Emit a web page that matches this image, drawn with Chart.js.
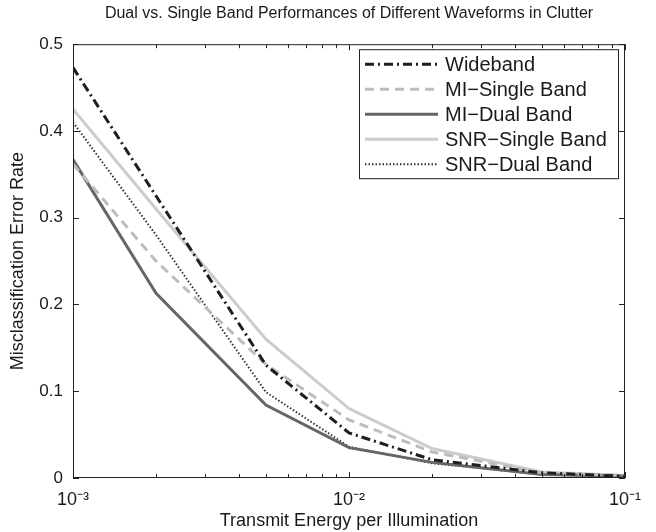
<!DOCTYPE html>
<html>
<head>
<meta charset="UTF-8">
<style>
  html, body { margin: 0; padding: 0; background: #fff; }
  #wrap { width: 656px; height: 532px; }
</style>
</head>
<body>
<div id="wrap">
    <canvas id="myChart" width="656" height="532"></canvas>
</div>

<script src="https://cdn.jsdelivr.net/npm/chart.js"></script>

<script>
    // transmit energy values (log axis)
    const energy = [0.001, 0.002, 0.005, 0.01, 0.02, 0.05, 0.1];

    // error rates
    const wideband     = [0.473, 0.325, 0.130, 0.052, 0.021, 0.006, 0.002];
    const miSingle     = [0.362, 0.250, 0.131, 0.067, 0.030, 0.006, 0.003];
    const miDual       = [0.367, 0.213, 0.084, 0.035, 0.018, 0.004, 0.002];
    const snrSingle    = [0.425, 0.310, 0.160, 0.080, 0.034, 0.007, 0.003];
    const snrDual      = [0.410, 0.280, 0.099, 0.036, 0.017, 0.004, 0.002];

    const xTicks = [0.001, 0.01, 0.1];
    const xTickLabels = ['10\u207B\u00B3', '10\u207B\u00B2', '10\u207B\u00B9'];
    const yTicks = [0, 0.1, 0.2, 0.3, 0.4, 0.5];

    const FONT = '"Liberation Sans", Arial, Helvetica, sans-serif';

    function pts(ys) {
        return energy.map((x, i) => ({ x: x, y: ys[i] }));
    }

    // box, inward ticks and legend, MATLAB style
    const frame = {
        id: 'frame',
        afterDatasetsDraw(chart) {
            const ctx = chart.ctx;
            const a = chart.chartArea;
            const xs = chart.scales.x;
            const ys = chart.scales.y;
            ctx.save();
            ctx.strokeStyle = '#222';
            ctx.lineWidth = 1;
            ctx.strokeRect(a.left + 0.5, a.top + 0.5, a.right - a.left - 1, a.bottom - a.top - 1);

            ctx.beginPath();
            yTicks.forEach(v => {
                const py = Math.round(ys.getPixelForValue(v)) + 0.5;
                ctx.moveTo(a.left, py); ctx.lineTo(a.left + 6, py);
                ctx.moveTo(a.right, py); ctx.lineTo(a.right - 6, py);
            });
            [0.001, 0.01].forEach(d => {
                for (let k = 1; k <= 10; k++) {
                    const v = d * k;
                    const len = (k === 1 || k === 10) ? 6 : 4;
                    const px = Math.round(xs.getPixelForValue(v)) + 0.5;
                    ctx.moveTo(px, a.bottom); ctx.lineTo(px, a.bottom - len);
                    ctx.moveTo(px, a.top); ctx.lineTo(px, a.top + len);
                }
            });
            ctx.stroke();

            // legend
            const bx = a.left + 286, by = a.top + 5;
            const bw = a.right - 7 - bx, bh = 129;
            ctx.fillStyle = '#fff';
            ctx.fillRect(bx, by, bw, bh);
            ctx.strokeRect(bx + 0.5, by + 0.5, bw, bh);
            ctx.font = '20px ' + FONT;
            ctx.textBaseline = 'middle';
            chart.data.datasets.forEach((ds, i) => {
                const ry = by + 15 + i * 25;
                ctx.save();
                ctx.strokeStyle = ds.borderColor;
                ctx.lineWidth = ds.borderWidth;
                ctx.setLineDash(ds.borderDash || []);
                ctx.beginPath();
                ctx.moveTo(bx + 6, ry);
                ctx.lineTo(bx + 79, ry);
                ctx.stroke();
                ctx.restore();
                ctx.fillStyle = '#1a1a1a';
                ctx.fillText(ds.label, bx + 86, ry + 1);
            });
            ctx.restore();
        }
    };

    function chart() {
        const ctx = document.getElementById('myChart');
        new Chart(ctx, {
            type: 'line',
            data: {
                datasets: [{
                    label: 'Wideband',
                    data: pts(wideband),
                    borderColor: '#1e1e1e',
                    borderWidth: 3,
                    borderDash: [9, 4, 2, 4]
                }, {
                    label: 'MI\u2212Single Band',
                    data: pts(miSingle),
                    borderColor: '#bdbdbd',
                    borderWidth: 3,
                    borderDash: [9, 6]
                }, {
                    label: 'MI\u2212Dual Band',
                    data: pts(miDual),
                    borderColor: '#666666',
                    borderWidth: 3
                }, {
                    label: 'SNR\u2212Single Band',
                    data: pts(snrSingle),
                    borderColor: '#cccccc',
                    borderWidth: 3
                }, {
                    label: 'SNR\u2212Dual Band',
                    data: pts(snrDual),
                    borderColor: '#333333',
                    borderWidth: 2,
                    borderDash: [1.5, 2]
                }]
            },
            options: {
                responsive: false,
                animation: false,
                layout: { padding: { left: 0, right: 31, top: 0, bottom: 0 } },
                elements: {
                    point: { radius: 0 },
                    line: { tension: 0 }
                },
                plugins: {
                    legend: { display: false },
                    tooltip: { enabled: false },
                    title: {
                        display: true,
                        fullSize: false,
                        text: 'Dual vs. Single Band Performances of Different Waveforms in Clutter',
                        color: '#1a1a1a',
                        font: { family: FONT, size: 16, weight: 'normal' },
                        padding: { top: 4, bottom: 21 }
                    }
                },
                scales: {
                    x: {
                        type: 'logarithmic',
                        min: 0.001,
                        max: 0.1,
                        afterBuildTicks: s => { s.ticks = xTicks.map(v => ({ value: v })); },
                        afterFit: s => { s.height = 54; },
                        grid: { display: false, drawTicks: false },
                        border: { display: false },
                        ticks: {
                            color: '#1a1a1a',
                            font: { family: FONT, size: 18 },
                            padding: 11,
                            maxRotation: 0,
                            callback: (v) => xTickLabels[xTicks.indexOf(v)]
                        },
                        title: {
                            display: true,
                            text: 'Transmit Energy per Illumination',
                            color: '#1a1a1a',
                            font: { family: FONT, size: 18 },
                            padding: { top: 0, bottom: 0 }
                        }
                    },
                    y: {
                        min: 0,
                        max: 0.5,
                        afterBuildTicks: s => { s.ticks = yTicks.map(v => ({ value: v })); },
                        afterFit: s => { s.width = 73; },
                        grid: { display: false, drawTicks: false },
                        border: { display: false },
                        ticks: {
                            color: '#1a1a1a',
                            font: { family: FONT, size: 17 },
                            padding: 10,
                            callback: (v) => String(v)
                        },
                        title: {
                            display: true,
                            text: 'Misclassification Error Rate',
                            color: '#1a1a1a',
                            font: { family: FONT, size: 18 },
                            padding: { top: 7, bottom: 0 }
                        }
                    }
                }
            },
            plugins: [frame]
        });
    }

    chart();
</script>
</body>
</html>
